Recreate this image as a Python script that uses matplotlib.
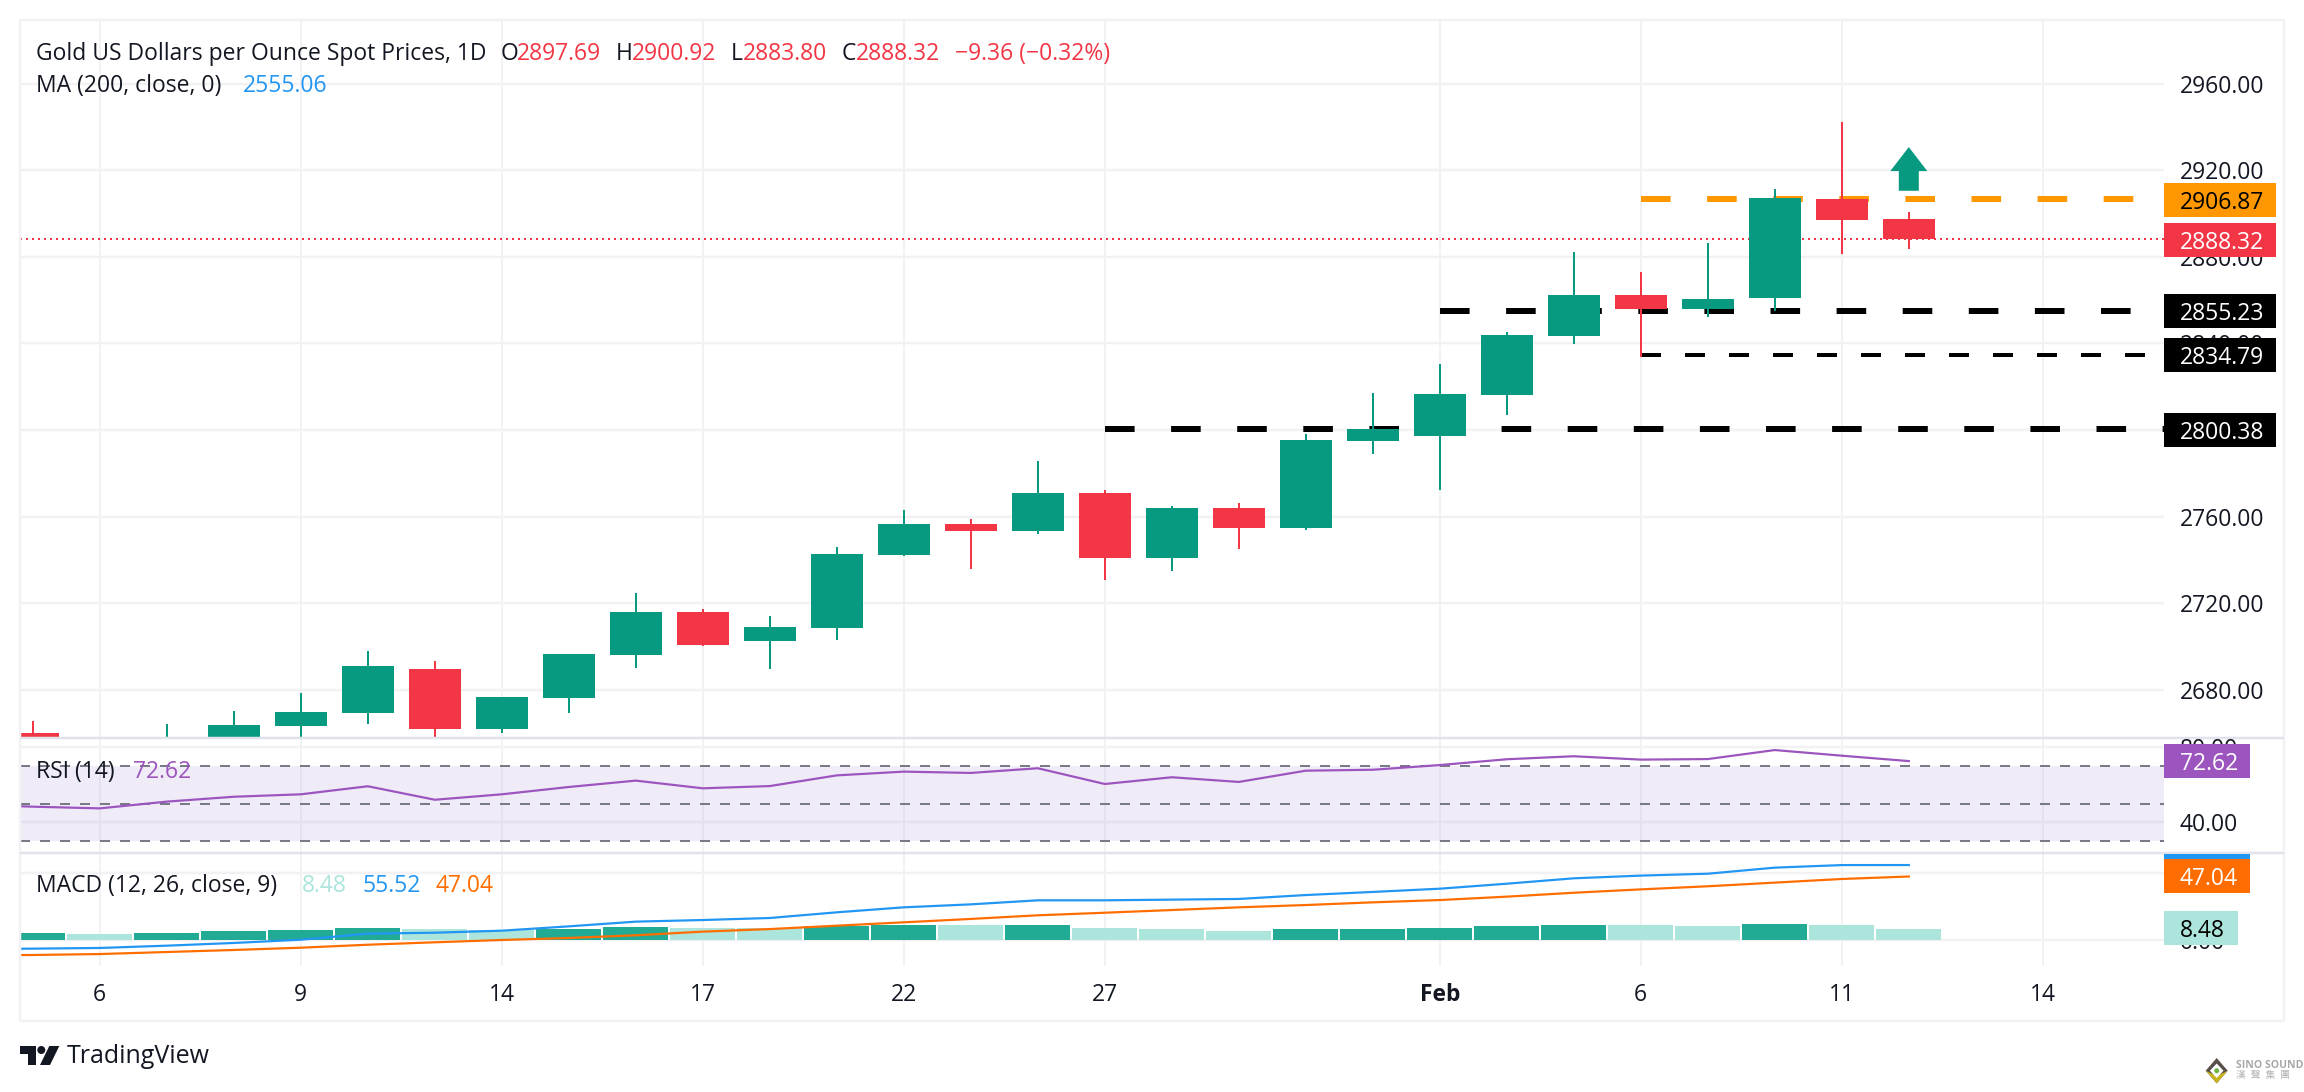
import numpy as np
import matplotlib
matplotlib.use("Agg")
import matplotlib.pyplot as plt
from matplotlib.patches import FancyArrow, Rectangle, Polygon

plt.rcParams['font.family'] = ['Open Sans', 'Noto Sans CJK SC', 'DejaVu Sans']

# ---------- data ----------
days = np.arange(-2, 28)
opens = [np.nan, 2660.0, 2645.0, 2648.0, 2655.0, 2663.2, 2669.2, 2689.5, 2661.8, 2676.1, 2696.0, 2715.9, 2702.5, 2708.5,
         2742.2, 2756.5, 2753.3, 2770.9, 2740.8, 2763.9, 2754.7, 2794.9, 2797.2, 2816.2, 2843.5, 2862.4, 2855.9, 2861.0, 2906.8, 2897.69]
closes = [np.nan, 2655.0, 2650.0, 2655.0, 2663.6, 2669.6, 2690.9, 2661.8, 2676.6, 2696.5, 2715.9, 2700.6, 2708.9, 2742.7,
          2756.5, 2753.3, 2770.9, 2740.8, 2763.9, 2754.7, 2795.4, 2800.5, 2816.6, 2843.9, 2862.4, 2855.9, 2860.6, 2907.2, 2897.1, 2888.32]
highs = [np.nan, 2665.5, 2655.0, 2664.0, 2670.0, 2678.4, 2697.8, 2693.2, 2676.6, 2696.5, 2724.7, 2717.3, 2714.0, 2745.9,
         2763.0, 2758.9, 2785.7, 2772.3, 2765.0, 2766.3, 2798.2, 2817.1, 2830.5, 2845.3, 2882.3, 2873.0, 2886.4, 2911.4, 2942.4, 2900.92]
lows = [np.nan, 2650.0, 2640.0, 2642.0, 2652.0, 2655.0, 2664.1, 2657.0, 2660.0, 2669.2, 2690.0, 2700.2, 2689.5, 2702.9,
        2741.8, 2735.7, 2751.9, 2730.7, 2735.0, 2745.0, 2753.8, 2788.9, 2772.3, 2806.9, 2839.8, 2833.7, 2852.2, 2855.0, 2881.4, 2883.80]

rsi = [49.5, 48.3, 47.4, 51.0, 53.6, 54.9, 59.2, 52.0, 54.9, 58.8, 62.2, 58.1, 59.3, 65.0, 67.0, 66.3, 68.8, 60.4,
       64.0, 61.5, 67.5, 68.0, 70.5, 73.6, 75.2, 73.4, 73.7, 78.5, 75.5, 72.62]
macd = [-6.8, -6.4, -5.9, -4.2, -2.2, 0.2, 4.7, 5.4, 6.9, 10.1, 13.6, 14.8, 16.3, 20.5, 24.2, 26.4, 29.4, 29.4,
        29.9, 30.4, 33.3, 35.6, 38.0, 41.7, 45.7, 47.7, 49.1, 53.6, 55.5, 55.52]
signal = [-11.4, -11.1, -10.4, -8.9, -7.4, -5.7, -3.5, -1.7, 0.0, 1.5, 3.5, 6.2, 8.1, 10.6, 13.1, 15.6, 18.3, 20.2,
          22.2, 24.2, 25.9, 27.9, 29.6, 32.1, 35.0, 37.5, 39.8, 42.5, 45.2, 47.04]
hist = [np.nan, 5.2, 4.4, 5.2, 6.7, 7.4, 8.9, 8.1, 7.4, 8.1, 9.6, 8.9, 8.9, 10.4, 11.1, 11.1, 11.1, 8.9,
        8.1, 6.7, 8.1, 8.1, 8.9, 10.4, 11.1, 11.1, 10.4, 11.9, 11.1, 8.48]
hist_rising = [0, 1, 0, 1, 1, 1, 1, 0, 0, 1, 1, 0, 0, 1, 1, 0, 1, 0, 0, 0, 1, 1, 1, 1, 1, 0, 0, 1, 0, 0]

tick_days = [0, 3, 6, 9, 12, 15, 20, 23, 26, 29]
tick_labels = ['6', '9', '14', '17', '22', '27', 'Feb', '6', '11', '14']
price_ticks = [2960, 2920, 2880, 2840, 2760, 2720, 2680]
grid_prices = [2960, 2920, 2880, 2840, 2800, 2760, 2720, 2680]

level_black_thick = [(2800.38, 15), (2855.23, 20)]
level_black_thin = [(2834.79, 23)]
level_orange = [(2906.87, 23)]
last_close = 2888.32
arrow_day, arrow_base, arrow_tip = 27, 2910.6, 2930.8

# ---------- layout ----------
W, H = 2304, 1092
GREEN, RED = '#089981', '#F23645'
GRID = '#F2F2F5'
SEP = '#E0E3EB'
TXT = '#131722'
PURPLE = '#9C55BF'
BLUE = '#2196F3'
ORANGE = '#FF6D00'
L, R = 20, 2164
PX_PER_DAY = 67.0
X0 = 99.8
xlim = ((L - X0) / PX_PER_DAY, (R - X0) / PX_PER_DAY)
px = 72 / 100

fig = plt.figure(figsize=(W / 100, H / 100), dpi=100, facecolor='white')


def pane(top, bottom):
    a = fig.add_axes([L / W, 1 - bottom / H, (R - L) / W, (bottom - top) / H])
    a.set_xlim(*xlim)
    a.set_xticks([])
    a.set_yticks([])
    for s in a.spines.values():
        s.set_visible(False)
    a.set_facecolor('none')
    for d in tick_days:
        a.axvline(d, color=GRID, lw=2 * px, zorder=0)
    return a


ax = pane(20, 737)
ax.set_ylim(2800 - (737 - 430) / 2.163, 2800 + (430 - 20) / 2.163)
axr = pane(739, 852)
axr.set_ylim(70 - (852 - 766) / 1.875, 70 + (766 - 739) / 1.875)
axm = pane(854, 966)
axm.set_ylim(-(966 - 940) / 1.35, (940 - 854) / 1.35)

# main pane
for p in grid_prices:
    ax.axhline(p, color=GRID, lw=2.5 * px, zorder=0)
for level, start in level_black_thick + level_orange:
    col = '#FF9800' if (level, start) in level_orange else 'black'
    ax.plot([start, xlim[1]], [level, level], color=col, lw=6 * px, ls=(0, (29.6 / 6, 36.5 / 6)),
            dash_capstyle='butt', zorder=1)
for level, start in level_black_thin:
    ax.plot([start, xlim[1]], [level, level], color='black', lw=4 * px, ls=(0, (20 / 4, 24 / 4)),
            dash_capstyle='butt', zorder=1)
ax.axhline(last_close, color=RED, lw=2 * px, ls=(0, (1, 2)), dash_capstyle='butt', zorder=1)

for d, o, c, h, l in zip(days, opens, closes, highs, lows):
    if np.isnan(o):
        continue
    col = GREEN if c >= o else RED
    ax.vlines(d, l, h, color=col, lw=2 * px, zorder=3)
    ax.bar(d, abs(c - o), bottom=min(o, c), width=52 / PX_PER_DAY, color=col, lw=0, zorder=3)
ax.add_patch(FancyArrow(arrow_day, arrow_base, 0, arrow_tip - arrow_base, width=20 / PX_PER_DAY,
                        head_width=37 / PX_PER_DAY, head_length=11.1, length_includes_head=True,
                        color=GREEN, lw=0, zorder=4))

# RSI pane
for v in (80, 40):
    axr.axhline(v, color=GRID, lw=2.5 * px, zorder=0)
axr.axhspan(30, 70, color='#694BB9', alpha=0.1, lw=0, zorder=1)
for v in (70, 50, 30):
    axr.axhline(v, color='#787B86', lw=2 * px, ls=(0, (5, 5)), dash_capstyle='butt', zorder=2)
axr.plot(days, rsi, color=PURPLE, lw=2.2 * px, zorder=3)

# MACD pane
for v in (50, 0):
    axm.axhline(v, color=GRID, lw=2.5 * px, zorder=0)
axm.bar(days, hist, width=65 / PX_PER_DAY, lw=0, zorder=2,
        color=['#22AB94' if r else '#ACE5DC' for r in hist_rising])
axm.plot(days, signal, color=ORANGE, lw=2.2 * px, zorder=3)
axm.plot(days, macd, color=BLUE, lw=2.2 * px, zorder=3)

# overlay in pixel coordinates
ov = fig.add_axes([0, 0, 1, 1], zorder=10)
ov.set_xlim(0, W)
ov.set_ylim(H, 0)
ov.set_axis_off()
ov.patch.set_alpha(0)


def T(x, y, s, color=TXT, ha='left', size=16.5, **kw):
    return ov.text(x, y + 1.5, s, color=color, ha=ha, va='center', fontsize=size, **kw)


def box(x0, x1, y0, y1, color, text=None, tc='white', tx=2180):
    ov.add_patch(Rectangle((x0, y0), x1 - x0, y1 - y0, fc=color, ec='none', zorder=3))
    if text:
        T(tx, (y0 + y1) / 2 + 1.5, text, color=tc, zorder=4)


# frame
for (xa, xb, ya, yb, c) in [(20, 2284, 20, 20, GRID), (20, 20, 20, 1021, GRID), (2284, 2284, 20, 1021, GRID),
                            (20, 2284, 1021, 1021, GRID), (20, 2284, 738, 738, SEP), (20, 2284, 853, 853, SEP)]:
    ov.plot([xa, xb], [ya, yb], color=c, lw=2.5 * px, zorder=1, solid_capstyle='butt')

# legends
T(36, 52, 'Gold US Dollars per Ounce Spot Prices, 1D')
for x, s, c in [(501, 'O', TXT), (517, '2897.69', RED), (616, 'H', TXT), (632, '2900.92', RED), (731, 'L', TXT),
                (743, '2883.80', RED), (842, 'C', TXT), (856, '2888.32', RED), (955, '\u22129.36 (\u22120.32%)', RED)]:
    T(x, 52, s, color=c)
T(36, 85, 'MA (200, close, 0)')
T(243, 85, '2555.06', color=BLUE)
T(36.5, 770, 'RSI (14)')
T(133.5, 770, '72.62', color=PURPLE)
T(36, 885, 'MACD (12, 26, close, 9)')
T(301.5, 885, '8.48', color='#ACE5DC')
T(363, 885, '55.52', color=BLUE)
T(436, 885, '47.04', color=ORANGE)

# axis labels
for p in price_ticks:
    T(2180, 431.5 - (p - 2800) * 2.163, f'{p:.2f}', zorder=2)
T(2180, 749, '80.00', zorder=2)
T(2180, 823.5, '40.00', zorder=2)
T(2180, 941.5, '0.00', zorder=2)

for d, s in zip(tick_days, tick_labels):
    T(X0 + d * PX_PER_DAY, 993.5, s, ha='center', fontweight='bold' if s == 'Feb' else 'normal')

# value boxes
box(2164, 2276, 183, 217, '#FF9800', '2906.87', 'black')
box(2164, 2276, 223, 257, RED, '2888.32')
box(2164, 2276, 294, 328, 'black', '2855.23')
box(2164, 2276, 338, 372, 'black', '2834.79')
box(2164, 2276, 413, 447, 'black', '2800.38')
box(2164, 2250, 744, 778, PURPLE, '72.62')
box(2164, 2250, 854, 870, BLUE)
box(2164, 2250, 859, 893, ORANGE, '47.04')
box(2164, 2238, 911, 945, '#ACE5DC', '8.48', 'black')

# TradingView logo
ov.add_patch(Polygon([(20, 1046), (36, 1046), (36, 1065), (28, 1065), (28, 1053.5), (20, 1053.5)], fc=TXT, ec='none'))
ov.add_patch(Polygon([(49.3, 1046), (59.3, 1046), (50, 1065), (40, 1065)], fc=TXT, ec='none'))
ov.add_patch(plt.Circle((41.3, 1050), 4, fc=TXT, ec='none'))
T(67, 1055, 'TradingView', size=18)

# watermark
ov.add_patch(Polygon([(2216.7, 1058), (2227.7, 1070.7), (2216.7, 1083.4), (2205.7, 1070.7)], fc='#57504A', ec='none'))
ov.add_patch(Polygon([(2205.7, 1070.7), (2216.7, 1076), (2227.7, 1070.7), (2216.7, 1083.4)], fc='#C9B420', ec='none'))
ov.add_patch(Polygon([(2216.7, 1063.5), (2223.5, 1070.7), (2216.7, 1078), (2209.9, 1070.7)], fc='white', ec='none'))
ov.add_patch(plt.Circle((2216.7, 1070.7), 2.5, fc='#6DB33F', ec='none'))
T(2236, 1063.5, 'SINO SOUND', color='#A8A8A8', size=7.6, fontweight='bold')
T(2236, 1074, '漢  聲  集  團', color='#B4B4B4', size=7)

fig.savefig('out.png', dpi=100)
